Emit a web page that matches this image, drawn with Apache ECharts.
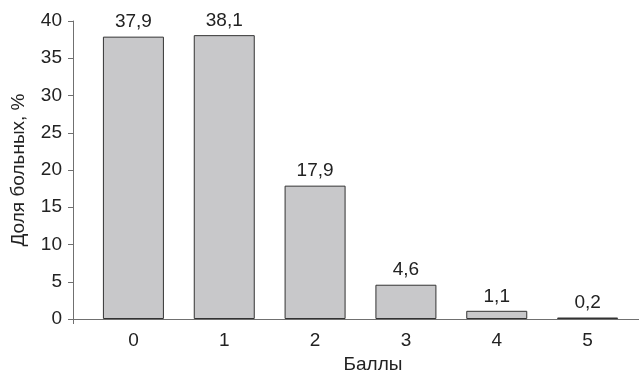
<!DOCTYPE html>
<html>
<head>
<meta charset="utf-8">
<script src="https://cdn.jsdelivr.net/npm/echarts@6/dist/echarts.min.js"></script>
<style>
  html, body { margin: 0; padding: 0; background: #fff; }
  #chart { width: 639px; height: 371px; }
</style>
</head>
<body>
<div id="chart"></div>
<script>
// Распределение больных по баллам
const scores = ['0', '1', '2', '3', '4', '5'];
const shares = [37.9, 38.1, 17.9, 4.6, 1.1, 0.2];
const yTicks = [0, 5, 10, 15, 20, 25, 30, 35, 40];

const FONT = '"Liberation Sans Narrow", "Liberation Sans", Arial, sans-serif';
const FS = 19;
const TEXT = '#222';
const AXIS = '#707070';

const chart = echarts.init(document.getElementById('chart'), null, { renderer: 'canvas' });

chart.setOption({
  animation: false,
  backgroundColor: '#fff',
  grid: [
    // bars
    { left: 88, right: 6, top: 21, bottom: 52, outerBoundsMode: 'none', containLabel: false },
    // axes frame
    { left: 73, right: 0, top: 21, bottom: 52, outerBoundsMode: 'none', containLabel: false }
  ],
  xAxis: [
    {
      type: 'category',
      gridIndex: 0,
      data: scores,
      axisLine: { show: false },
      axisTick: { show: false },
      axisLabel: { color: TEXT, fontFamily: FONT, fontSize: FS, margin: 12 },
      name: 'Баллы',
      nameLocation: 'middle',
      nameGap: 33,
      nameTextStyle: { color: TEXT, fontFamily: FONT, fontSize: FS, padding: [0, 0, 0, 25] }
    },
    {
      type: 'value',
      gridIndex: 1,
      min: 0,
      max: 1,
      axisLine: { show: true, lineStyle: { color: AXIS, width: 1 } },
      axisTick: { show: true, length: 5, lineStyle: { color: AXIS }, customValues: [0] },
      axisLabel: { show: false },
      splitLine: { show: false }
    }
  ],
  yAxis: [
    {
      type: 'value',
      gridIndex: 0,
      min: 0,
      max: 40,
      show: false
    },
    {
      type: 'value',
      gridIndex: 1,
      min: 0,
      max: 40,
      interval: 5,
      axisLine: { show: true, lineStyle: { color: AXIS, width: 1 } },
      axisTick: { show: true, length: 5, lineStyle: { color: AXIS } },
      axisLabel: {
        color: TEXT, fontFamily: FONT, fontSize: FS, margin: 11,
        customValues: yTicks
      },
      splitLine: { show: false },
      name: 'Доля больных, %',
      nameLocation: 'middle',
      nameGap: 45,
      nameRotate: 90,
      nameTextStyle: { color: TEXT, fontFamily: FONT, fontSize: FS }
    }
  ],
  series: [
    {
      type: 'bar',
      xAxisIndex: 0,
      yAxisIndex: 0,
      data: shares,
      barWidth: 61,
      itemStyle: { color: '#c8c8ca', borderColor: '#333', borderWidth: 1 },
      label: {
        show: true,
        position: 'top',
        distance: 5,
        color: TEXT,
        fontFamily: FONT,
        fontSize: FS,
        formatter: p => String(p.value).replace('.', ',')
      }
    }
  ]
});
</script>
</body>
</html>
